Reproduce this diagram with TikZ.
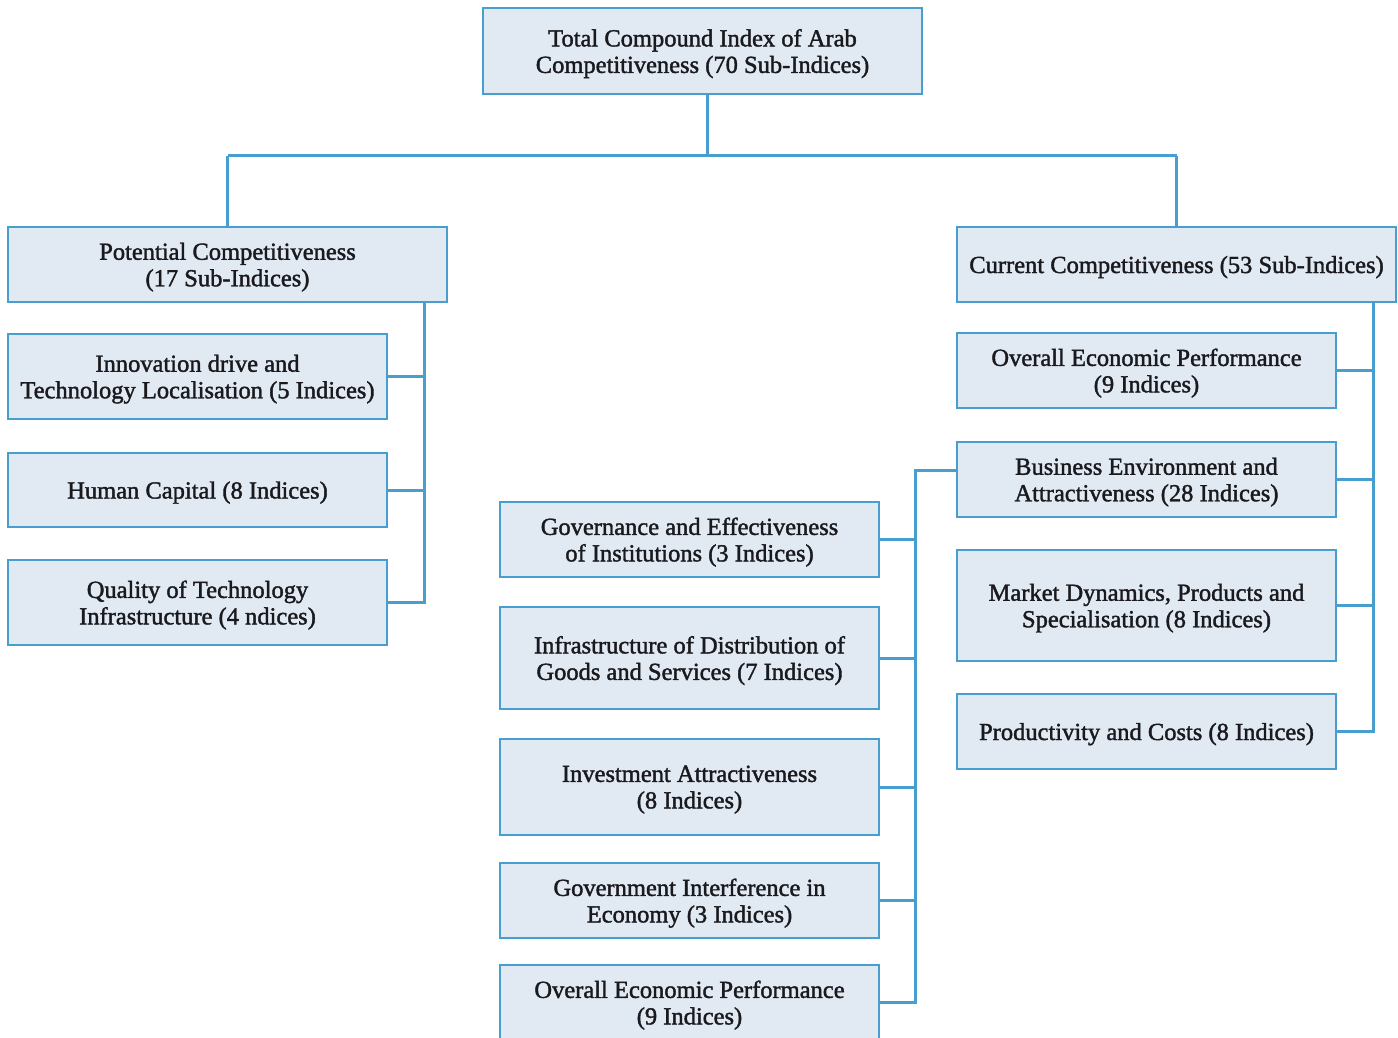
\documentclass[tikz,border=0pt]{standalone}
\usepackage{fontspec}
\setmainfont{Liberation Serif}[FakeBold=1.6]
\usetikzlibrary{calc}
\definecolor{boxfill}{RGB}{225,233,243}
\definecolor{linkblue}{RGB}{72,158,206}
\definecolor{txt}{RGB}{26,26,30}
\tikzset{
	box/.style={draw=linkblue, fill=boxfill, line width=1.8pt, align=center, inner sep=0pt, text=txt, font=\fontsize{24.5}{26.5}\selectfont, text depth=-9pt},
	widebox/.style={box, minimum width=439pt},
	smallbox/.style={box, minimum width=379pt},
	link/.style={draw=linkblue, line width=3pt}
}
\begin{document}
\begin{tikzpicture}[x=1pt,y=-1pt]
					\useasboundingbox (0,0) rectangle (1398,1038);
					\clip (0,0) rectangle (1398,1038);
					%TOP
					\node[widebox, minimum height=86pt] (total) at (702.5,51) {Total Compound Index of Arab\\Competitiveness (70 Sub-Indices)};
					\node[widebox, minimum height=75pt] (potential) at (227.5,264.5) {Potential Competitiveness\\(17 Sub-Indices)};
					\node[widebox, minimum height=75pt] (current) at (1176.5,264.5) {Current Competitiveness (53 Sub-Indices)};
					
					%POTENTIAL
					\node[smallbox, minimum height=85pt] (innov) at (197.5,376.5) {Innovation drive and\\Technology Localisation (5 Indices)};
					\node[smallbox, minimum height=74pt] (human) at (197.5,490) {Human Capital (8 Indices)};
					\node[smallbox, minimum height=85pt] (quality) at (197.5,602.5) {Quality of Technology\\Infrastructure (4 ndices)};
					
					%CURRENT
					\node[smallbox, minimum height=75pt] (overall) at (1146.5,370.5) {Overall Economic Performance\\(9 Indices)};
					\node[smallbox, minimum height=75pt] (business) at (1146.5,479.5) {Business Environment and\\Attractiveness (28 Indices)};
					\node[smallbox, minimum height=111pt] (market) at (1146.5,605.5) {Market Dynamics, Products and\\Specialisation (8 Indices)};
					\node[smallbox, minimum height=75pt] (product) at (1146.5,731.5) {Productivity and Costs (8 Indices)};
					
					%BUSINESS ENVIRONMENT
					\node[smallbox, minimum height=75pt] (govern) at (689.5,539.5) {Governance and Effectiveness\\of Institutions (3 Indices)};
					\node[smallbox, minimum height=102pt] (infra) at (689.5,658) {Infrastructure of Distribution of\\Goods and Services (7 Indices)};
					\node[smallbox, minimum height=96pt] (invest) at (689.5,787) {Investment Attractiveness\\(8 Indices)};
					\node[smallbox, minimum height=75pt] (interf) at (689.5,900.5) {Government Interference in\\Economy (3 Indices)};
					\node[smallbox, minimum height=75pt] (overallb) at (689.5,1002.5) {Overall Economic Performance\\(9 Indices)};
					
					%LINKS
					\coordinate (lbus) at (424,0);
					\coordinate (rbus) at (1373,0);
					\coordinate (mbus) at (915,0);
					\draw[link] ([xshift=4.5pt]total.south) -- ++(0,61) coordinate (fork);
					\draw[link] (fork -| potential.north) -- (fork -| current.north);
					\draw[link] (fork -| potential.north) -- (potential.north);
					\draw[link] (fork -| current.north) -- (current.north);
					
					\draw[link] (potential.south -| lbus) |- (quality.east);
					\foreach \n in {innov,human}
						\draw[link] (\n.east) -- (\n.east -| lbus);
					
					\draw[link] (current.south -| rbus) |- (product.east);
					\foreach \n in {overall,business,market}
						\draw[link] (\n.east) -- (\n.east -| rbus);
					
					\draw[link] ([yshift=9.5pt]business.west) -| (overallb.east -| mbus) -- (overallb.east);
					\foreach \n in {govern,infra,invest,interf}
						\draw[link] (\n.east) -- (\n.east -| mbus);
				  \end{tikzpicture}
\end{document}
